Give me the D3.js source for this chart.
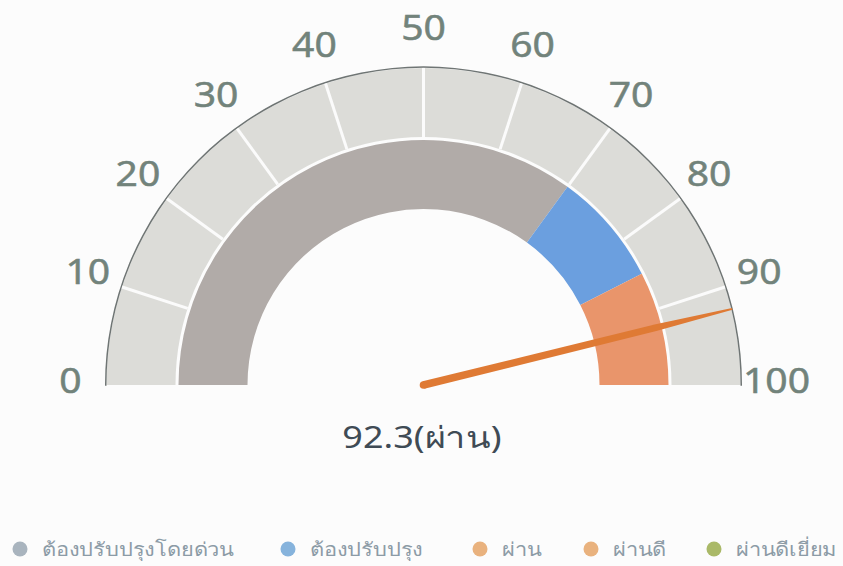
<!DOCTYPE html>
<html>
<head>
<meta charset="utf-8">
<script src="https://cdn.jsdelivr.net/npm/d3@7"></script>
<style>
  body { margin: 0; background: #fcfcfc; }
  svg { display: block; font-family: "Noto Sans", "Open Sans", sans-serif; }
</style>
</head>
<body>
<div id="chart"></div>
<script>
const width = 843;
const height = 566;

// gauge data
const tickValues = [0, 10, 20, 30, 40, 50, 60, 70, 80, 90, 100];
const bandNames = ["ต้องปรับปรุงโดยด่วน", "ต้องปรับปรุง", "ผ่าน", "ผ่านดี", "ผ่านดีเยี่ยม"];
const bandFrom = [0, 70, 85, 100, 100];
const bandTo = [70, 85, 100, 100, 100];
const bandColors = ["#b1aba8", "#6b9fdf", "#e9956b", "#e9956b", "#a9bb63"];
const legendColors = ["#a9b4be", "#86b3dc", "#e9b27e", "#e9b27e", "#aab968"];
const legendX = [20, 288, 480, 591, 714];
const score = 92.3;
const scoreLabel = "ผ่าน";

const cx = 423.5, cy = 385;
const rOuter = 317, rTickIn = 248;
const rBandOut = 245, rBandIn = 176;
const rLabel = 353;

const svg = d3.select("#chart").append("svg").attr("width", width).attr("height", height);
const g = svg.append("g").attr("transform", `translate(${cx},${cy})`);

const angle = d3.scaleLinear().domain([0, 100]).range([-Math.PI / 2, Math.PI / 2]);

// outer tick band
g.append("path")
  .attr("d", d3.arc()({ innerRadius: rTickIn, outerRadius: rOuter, startAngle: angle(0), endAngle: angle(100) }))
  .attr("fill", "#dcdcd8");

// outer border line
g.append("path")
  .attr("d", d3.arc()({ innerRadius: rOuter, outerRadius: rOuter + 1.5, startAngle: angle(0) - 0.002, endAngle: angle(100) + 0.002 }))
  .attr("fill", "#6f7574");

// separators
g.selectAll("line.sep")
  .data(tickValues.slice(1, -1))
  .join("line")
  .attr("class", "sep")
  .attr("x1", (d) => rTickIn * Math.sin(angle(d)))
  .attr("y1", (d) => -rTickIn * Math.cos(angle(d)))
  .attr("x2", (d) => rOuter * Math.sin(angle(d)))
  .attr("y2", (d) => -rOuter * Math.cos(angle(d)))
  .attr("stroke", "#fbfbfb")
  .attr("stroke-width", 3);

// tick labels (slightly wide lettering like the original)
g.selectAll("text.tick")
  .data(tickValues)
  .join("text")
  .attr("class", "tick")
  .attr("transform", (d) => `translate(${rLabel * Math.sin(angle(d))},${-rLabel * Math.cos(angle(d)) - 5}) scale(1.15,1)`)
  .attr("text-anchor", "middle")
  .attr("dominant-baseline", "central")
  .attr("font-size", 34)
  .attr("fill", "#72837b")
  .attr("stroke", "#72837b")
  .attr("stroke-width", 0.5)
  .text((d) => d);

// colour bands
const bands = bandNames.map((name, i) => ({ name, from: bandFrom[i], to: bandTo[i], color: bandColors[i] }))
  .filter((d) => d.to > d.from);

g.selectAll("path.band")
  .data(bands)
  .join("path")
  .attr("class", "band")
  .attr("d", (d) => d3.arc()({ innerRadius: rBandIn, outerRadius: rBandOut, startAngle: angle(d.from), endAngle: angle(d.to) }))
  .attr("fill", (d) => d.color);

// needle: thick shaft, tapering towards the tip
const a = angle(score);
const ux = Math.sin(a), uy = -Math.cos(a);
const px = -uy, py = ux;
const baseW = 3.8, midW = 3.3, midR = 240, tipW = 0.9, len = rOuter + 1;
const pt = (r, w) => `${ux * r + px * w},${uy * r + py * w}`;
g.append("path")
  .attr("d", `M${pt(0, baseW)} L${pt(midR, midW)} L${pt(len, tipW)} L${pt(len, -tipW)} L${pt(midR, -midW)} L${pt(0, -baseW)} Z`)
  .attr("fill", "#df7a34");
g.append("circle").attr("r", baseW).attr("fill", "#df7a34");

// value label
svg.append("text")
  .attr("transform", "translate(422,448) scale(1.2,1)")
  .attr("text-anchor", "middle")
  .attr("font-size", 30)
  .attr("fill", "#3f4b55")
  .text(`${score}(${scoreLabel})`);

// legend
const legend = svg.append("g").attr("transform", "translate(0,549)");
const items = legend.selectAll("g")
  .data(bandNames)
  .join("g")
  .attr("transform", (d, i) => `translate(${legendX[i]},0)`);
items.append("circle").attr("r", 7.5).attr("fill", (d, i) => legendColors[i]);
items.append("text")
  .attr("transform", "translate(22,0) scale(1.15,1)")
  .attr("dominant-baseline", "central")
  .attr("font-size", 19)
  .attr("fill", "#8c9ba6")
  .text((d) => d);
</script>
</body>
</html>
